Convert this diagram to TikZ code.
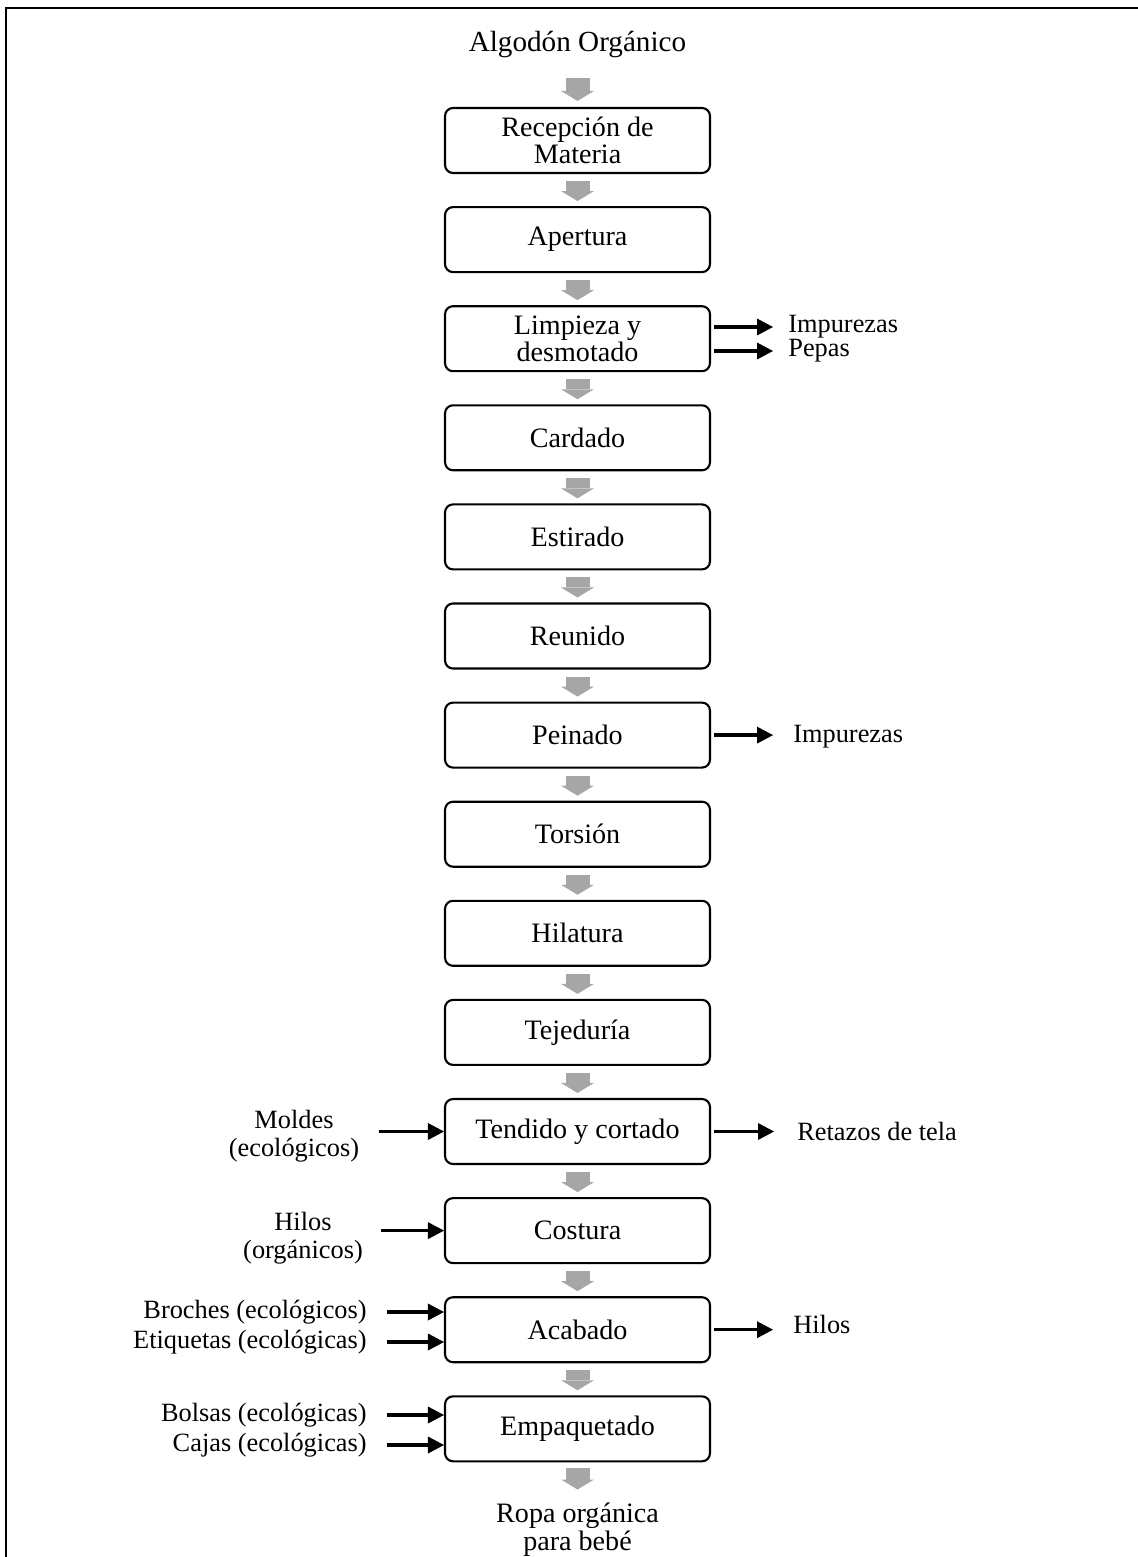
\documentclass[tikz,border=0pt]{standalone}
\usepackage{fontspec}
\setmainfont{Liberation Serif}
\usetikzlibrary{arrows.meta}
\definecolor{gris}{HTML}{A6A6A6}

\begin{document}
\begin{tikzpicture}[x=0.02cm,y=-0.02cm,font=\fontsize{16}{15.5}\selectfont,
  etapa/.style={draw,line width=1.2pt,rounded corners=0.16cm,minimum width=5.3cm,minimum height=1.3cm,align=center,inner sep=0pt},
  flujo/.style={draw=gris,line width=0.48cm,-{Triangle[width=0.66cm,length=0.2cm,line width=0pt]},shorten <=0.14cm,shorten >=0.1cm},
  salida/.style={line width=2pt,-{Triangle[width=0.34cm,length=0.32cm,line width=0pt]}},
  lbl/.style={inner sep=0pt,font=\fontsize{15}{16}\selectfont}]
\useasboundingbox (0,0) rectangle (1138,1557);
\draw[line width=1.4pt] (6,1557) -- (6,8) -- (1138,8);

\node[font=\fontsize{16.6}{16}\selectfont,inner sep=0pt,anchor=base] (algodon) at (577.5,52) {Algodón Orgánico};
\foreach \i/\nom/\txt in {0/recep/{Recepción de\\Materia},1/apert/Apertura,2/limp/{Limpieza y\\desmotado},3/card/Cardado,4/estir/Estirado,5/reun/Reunido,6/pein/Peinado,7/tors/Torsión,8/hilat/Hilatura,9/tejed/Tejeduría,10/tend/Tendido y cortado,11/cost/Costura,12/acab/Acabado,13/empaq/Empaquetado}
  \node[etapa] (\nom) at (577.5,140.5+99.1*\i) {\txt};
\node[align=center,inner sep=0pt,anchor=north] (ropa) at (577.5,1503) {Ropa orgánica\\para bebé};

\draw[flujo,shorten <=0.39cm,shorten >=0.12cm] (algodon) -- (recep);
\foreach \a/\b in {recep/apert,apert/limp,limp/card,card/estir,estir/reun,reun/pein,pein/tors,tors/hilat,hilat/tejed,tejed/tend,tend/cost,cost/acab,acab/empaq}
  \draw[flujo] (\a) -- (\b);
\draw[flujo,shorten <=0.12cm,shorten >=0.27cm] (empaq) -- (ropa);

% salidas
\node[lbl,anchor=west] (imp1) at (788,327) {Impurezas};
\node[lbl,anchor=west] (pepas) at (788,351) {Pepas};
\node[lbl,anchor=west] (imp2) at (793,737) {Impurezas};
\node[lbl,anchor=west] (retazos) at (797,1131) {Retazos de tela};
\node[lbl,anchor=west] (hilos) at (793,1324) {Hilos};
\draw[salida,shorten <=0.06cm,shorten >=0.3cm] (limp.east |- imp1) -- (imp1.west);
\draw[salida,shorten <=0.06cm,shorten >=0.3cm] (limp.east |- pepas) -- (pepas.west);
\draw[salida,shorten <=0.06cm,shorten >=0.4cm] (pein) -- (pein -| imp2.west);
\draw[salida,shorten <=0.06cm,shorten >=0.46cm] (tend) -- (tend -| retazos.west);
\draw[salida,shorten <=0.06cm,shorten >=0.4cm] (acab) -- (acab -| hilos.west);

% entradas
\node[lbl,align=center] (moldes) at (294,1136) {Moldes\\(ecológicos)};
\node[lbl,align=center] (hilosorg) at (303,1238) {Hilos\\(orgánicos)};
\node[lbl,anchor=east] (broches) at (367,1312) {Broches (ecológicos)};
\node[lbl,anchor=east] (etiq) at (367,1342) {Etiquetas (ecológicas)};
\node[lbl,anchor=east] (bolsas) at (367,1415) {Bolsas (ecológicas)};
\node[lbl,anchor=east] (cajas) at (367,1445) {Cajas (ecológicas)};
\draw[salida,shorten <=0.4cm] (moldes.east |- tend) -- (tend);
\draw[salida,shorten <=0.36cm] (hilosorg.east |- cost) -- (cost);
\foreach \e/\p in {broches/acab,etiq/acab,bolsas/empaq,cajas/empaq}
  \draw[salida,shorten <=0.4cm] (\e) -- (\p.west |- \e);
\end{tikzpicture}
\end{document}
